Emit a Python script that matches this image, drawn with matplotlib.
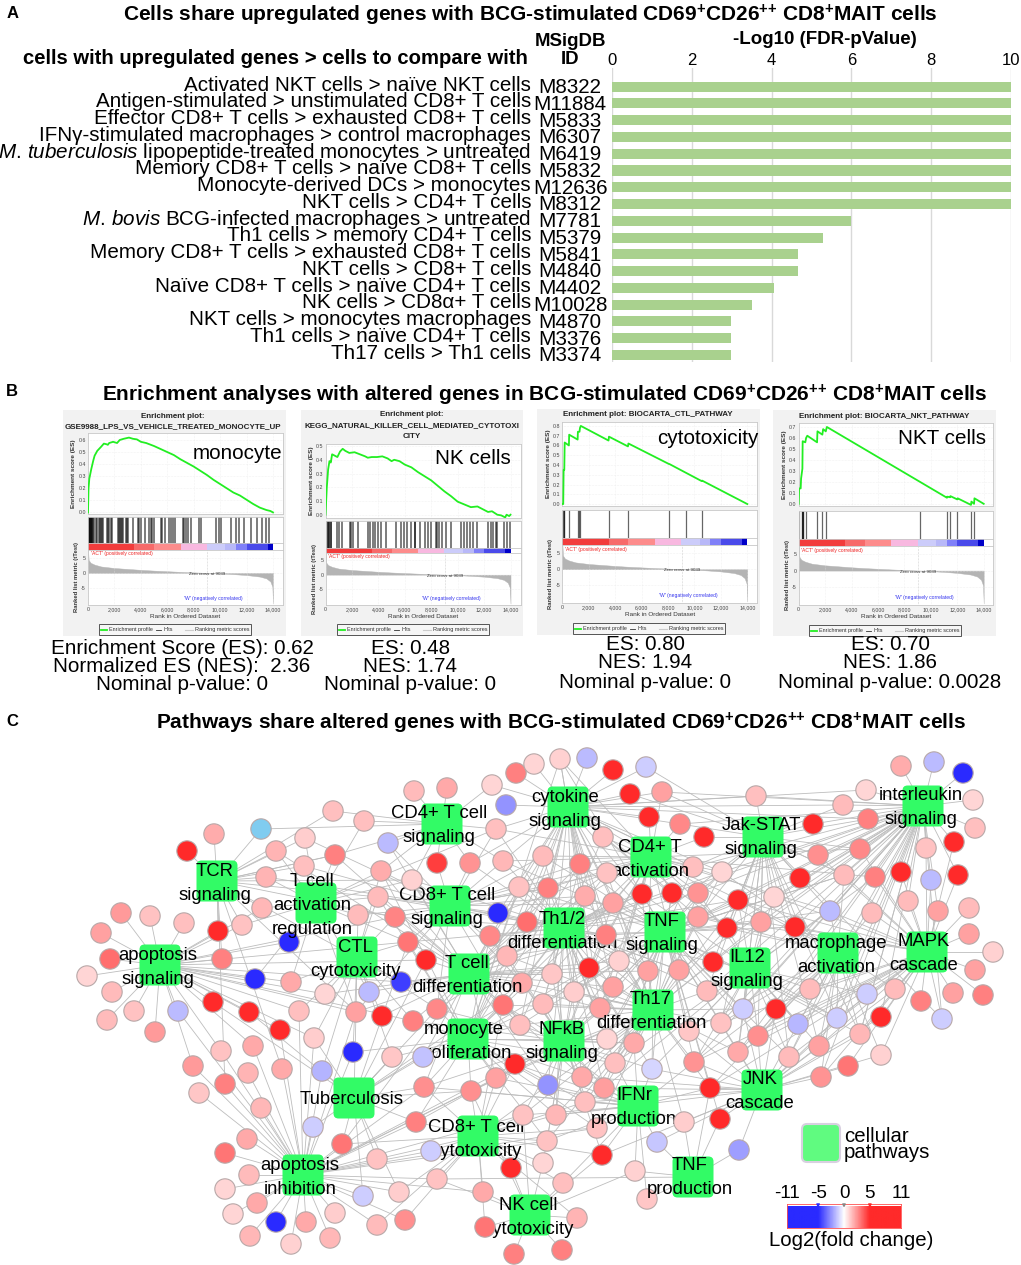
import numpy as np
import matplotlib
matplotlib.use('Agg')
import matplotlib.pyplot as plt
from matplotlib.collections import LineCollection
from matplotlib.colors import LinearSegmentedColormap, Normalize
from matplotlib.patches import FancyBboxPatch, Rectangle

plt.rcParams['font.family'] = ['Liberation Sans', 'DejaVu Sans']
plt.rcParams['mathtext.fontset'] = 'custom'
plt.rcParams['mathtext.default'] = 'regular'
plt.rcParams['mathtext.rm'] = 'Liberation Sans'
plt.rcParams['mathtext.it'] = 'Liberation Sans:italic'
plt.rcParams['mathtext.bf'] = 'Liberation Sans:bold'
plt.rcParams['axes.unicode_minus'] = False

W, H = 1021, 1265

# panel A
cell_labels = [
    'Activated NKT cells > naïve NKT cells',
    'Antigen-stimulated > unstimulated CD8+ T cells',
    'Effector CD8+ T cells > exhausted CD8+ T cells',
    'IFNγ-stimulated macrophages > control macrophages',
    r'$\mathit{M.\,tuberculosis}$ lipopeptide-treated monocytes > untreated',
    'Memory CD8+ T cells > naïve CD8+ T cells',
    'Monocyte-derived DCs > monocytes',
    'NKT cells > CD4+ T cells',
    r'$\mathit{M.\,bovis}$ BCG-infected macrophages > untreated',
    'Th1 cells > memory CD4+ T cells',
    'Memory CD8+ T cells > exhausted CD8+ T cells',
    'NKT cells > CD8+ T cells',
    'Naïve CD8+ T cells > naïve CD4+ T cells',
    'NK cells > CD8α+ T cells',
    'NKT cells > monocytes macrophages',
    'Th1 cells > naïve CD4+ T cells',
    'Th17 cells > Th1 cells',
]
msigdb_ids = ['M8322', 'M11884', 'M5833', 'M6307', 'M6419', 'M5832', 'M12636', 'M8312', 'M7781',
              'M5379', 'M5841', 'M4840', 'M4402', 'M10028', 'M4870', 'M3376', 'M3374']
log_fdr = [10, 10, 10, 10, 10, 10, 10, 10, 6.0, 5.3, 4.67, 4.67, 4.07, 3.5, 2.98, 2.98, 2.98]

# panel B, the ranked list is the same in all four plots
metric_rank = [0, 50, 200, 500, 1000, 2000, 3000, 4000, 5000, 6000, 7000, 8000, 9039, 10000,
               11000, 12000, 13000, 13500, 13800, 13950, 14000]
metric_val = [8, 4.2, 3.3, 2.7, 2.1, 1.6, 1.3, 1.0, 0.75, 0.55, 0.35, 0.18, 0, -0.18,
              -0.4, -0.7, -1.2, -1.8, -2.8, -4.5, -10]
strip_edges = [0, 3500, 5000, 7000, 9000, 10400, 11200, 12000, 13600, 14000]
strip_colors = ['#f23c3c', '#f76a6a', '#fd8c8c', '#f8b8e0', '#ccccfa', '#b8b8f8', '#8080f8', '#4a4aea', '#0000c8']

es1_rank = [0, 40, 100, 250, 400, 500, 700, 1000, 1200, 1400, 1500, 1600, 1900, 2200, 2400, 2700, 3100, 3400,
            3700, 4000, 4400, 5000, 5500, 6000, 6500, 7000, 7500, 8000, 8500, 9000, 9500, 10000, 10500, 11000,
            11500, 12000, 12500, 13000, 13500, 13800, 14000]
es1_val = [0, .2, .28, .36, .43, .47, .51, .545, .57, .565, .56, .575, .585, .575, .60, .61, .62, .61,
           .605, .585, .575, .55, .525, .50, .475, .44, .41, .38, .345, .31, .27, .235, .20, .165,
           .14, .105, .07, .04, .02, .012, 0]
es2_rank = [0, 100, 200, 300, 400, 500, 700, 900, 1100, 1300, 1500, 1800, 2200, 2600, 3000, 3200, 3500, 3900, 4300,
            4700, 5000, 5200, 5600, 6000, 6500, 7000, 7500, 8000, 8500, 9000, 9500, 10000, 10500, 11000, 11500,
            12000, 12300, 12600, 13000, 13300, 13600, 13700, 13900, 14000]
es2_val = [0, .2, .33, .39, .38, .44, .43, .42, .46, .48, .465, .45, .455, .44, .425, .415, .42, .42, .425,
           .41, .39, .40, .39, .365, .345, .31, .28, .25, .21, .17, .135, .095, .075, .055, .06,
           .035, .02, .025, 0, -.005, -.02, 0, -.01, 0]
es3_rank = [0, 70, 100, 150, 180, 500, 520, 1160, 1180, 1300, 1340, 1400, 3500, 3530, 4970, 5000, 8070, 8100,
            10545, 10580, 14000]
es3_val = [0, 0, .35, .35, .63, .60, .71, .66, .74, .74, .78, .80, .65, .69, .59, .62, .41, .41, .235, .24, 0]
es4_rank = [0, 30, 150, 180, 280, 300, 500, 560, 650, 1390, 1420, 1790, 1850, 2050, 2130, 11220, 11240, 11450, 11480,
            12000, 12030, 13040, 13070, 13270, 13300, 14000]
es4_val = [0, .14, .14, .23, .32, .57, .56, .60, .62, .56, .66, .63, .68, .66, .70, .055, .065, .06, .07,
           .04, .05, -.01, .02, .0, .05, 0]

hits1 = [20, 60, 100, 140, 180, 220, 260, 300, 340, 380, 420, 600, 660, 830, 900, 980, 1060, 1130, 1420, 1500, 1580,
         1760, 1850, 2300, 2370, 2440, 2510, 2580, 2650, 2860, 2950, 3030, 3400, 3800, 3880, 3980, 4330, 4650, 4730,
         4850, 4980, 5500, 5620, 5800, 6100, 6250, 6400, 6600, 7180, 7300, 7400, 7600, 7800, 8400, 8550, 9700, 9900,
         10100, 10850, 11200, 11450, 11800, 12300, 12800, 13200, 13500, 13700]
hits2 = [120, 180, 240, 300, 380, 450, 890, 1040, 1240, 1850, 1950, 2080, 2480, 3250, 3400, 3600, 3750, 3990, 4180,
         4560, 5320, 5700, 5950, 6200, 6500, 6750, 6810, 7120, 7500, 7750, 8000, 8350, 8450, 8600, 8850, 9110, 9490,
         10250, 10450, 10700, 10950, 11150, 11450, 12300, 12500, 12700, 12900, 13000, 13500, 13750, 13950]
hits3 = [76, 120, 150, 505, 1160, 1260, 1340, 3500, 4970, 8070, 9330, 10545]
hits4 = [20, 230, 270, 300, 340, 560, 1390, 1790, 2050, 9200, 11220, 11450, 12000, 13040, 13270]

gsea_titles = [
    ['Enrichment plot:', 'GSE9988_LPS_VS_VEHICLE_TREATED_MONOCYTE_UP'],
    ['Enrichment plot:', 'KEGG_NATURAL_KILLER_CELL_MEDIATED_CYTOTOXI', 'CITY'],
    ['Enrichment plot: BIOCARTA_CTL_PATHWAY'],
    ['Enrichment plot: BIOCARTA_NKT_PATHWAY'],
]
gsea_names = ['monocyte', 'NK cells', 'cytotoxicity', 'NKT cells']
gsea_stats = [
    ['Enrichment Score (ES): 0.62', 'Normalized ES (NES):  2.36', 'Nominal p-value: 0'],
    ['ES: 0.48', 'NES: 1.74', 'Nominal p-value: 0'],
    ['ES: 0.80', 'NES: 1.94', 'Nominal p-value: 0'],
    ['ES: 0.70', 'NES: 1.86', 'Nominal p-value: 0.0028'],
]

# panel C
pathway_x = [442, 217, 316, 450, 357, 160, 469, 568, 651, 763, 923, 564, 665, 750, 838, 927, 653, 468, 564, 354,
             478, 303, 530, 638, 762, 693]
pathway_y = [824, 881, 903, 906, 957, 965, 974, 807, 857, 837, 806, 928, 932, 968, 953, 952, 1010, 1039, 1041, 1098,
             1136, 1175, 1215, 1106, 1090, 1177]
pathway_text = [
    ['CD4+ T cell', 'signaling'], ['TCR', 'signaling'], ['T cell', 'activation', 'regulation'],
    ['CD8+ T cell', 'signaling'], ['CTL', 'cytotoxicity'], ['apoptosis', 'signaling'],
    ['T cell', 'differentiation'], ['cytokine', 'signaling'], ['CD4+ T', 'activation'],
    ['Jak-STAT', 'signaling'], ['interleukin', 'signaling'], ['Th1/2', 'differentiation'],
    ['TNF', 'signaling'], ['IL12', 'signaling'], ['macrophage', 'activation'], ['MAPK', 'cascade'],
    ['Th17', 'differentiation'], ['monocyte', 'proliferation'], ['NFkB', 'signaling'], ['Tuberculosis'],
    ['CD8+ T cell', 'cytotoxicity'], ['apoptosis', 'inhibition'], ['NK cell', 'cytotoxicity'],
    ['IFNr', 'production'], ['JNK', 'cascade'], ['TNF', 'production'],
]
pathway_text_x = [439, 215, 312, 447, 355, 158, 467, 565, 650, 761, 921, 562, 662, 747, 836, 924, 651, 464, 562, 352,
                  476, 300, 528, 634, 760, 690]
pathway_text_y = [814, 871, 881, 896, 947, 955, 964, 797, 847, 826, 796, 919, 921, 958, 943, 942, 999, 1029, 1030, 1100,
                  1127, 1165, 1205, 1095, 1080, 1166]

node_x = [187, 214, 261, 333, 364, 414, 447, 492, 516, 534,
          506, 305, 276, 388, 335, 304, 266, 437, 470, 496,
          503, 381, 412, 519, 378, 262, 358, 395, 498, 527,
          490, 242, 218, 121, 150, 184, 101, 110, 222, 289,
          408, 426, 507, 87, 112, 134, 178, 107, 155, 255,
          291, 325, 369, 401, 522, 213, 249, 299, 356, 382,
          413, 437, 503, 280, 314, 353, 392, 423, 221, 253,
          193, 248, 282, 322, 225, 199, 261, 424, 471, 496,
          515, 416, 523, 313, 342, 247, 225, 377, 431, 249,
          225, 257, 233, 276, 306, 335, 250, 291, 330, 363,
          399, 437, 377, 405, 511, 483, 485, 514, 562, 577,
          647, 635, 602, 563, 543, 547, 597, 657, 684, 720,
          739, 556, 585, 548, 582, 604, 652, 615, 694, 710,
          634, 607, 520, 689, 721, 738, 758, 789, 819, 860,
          881, 881, 848, 821, 798, 837, 942, 776, 743, 543,
          600, 560, 587, 613, 646, 630, 662, 649, 680, 704,
          603, 756, 813, 818, 843, 866, 868, 860, 901, 934,
          963, 973, 975, 954, 926, 901, 931, 958, 875, 844,
          800, 774, 738, 722, 693, 698, 672, 642, 543, 580,
          607, 548, 585, 613, 698, 606, 727, 761, 795, 830,
          872, 908, 938, 969, 969, 993, 975, 983, 953, 921,
          895, 867, 810, 713, 707, 679, 648, 619, 589, 552, 574, 613]
node_y = [851, 834, 829, 811, 821, 791, 788, 785, 773, 764,
          805, 838, 851, 843, 855, 866, 877, 863, 863, 829,
          861, 871, 880, 887, 897, 908, 915, 917, 913, 922,
          936, 925, 931, 913, 916, 923, 933, 959, 959, 942,
          942, 960, 956, 976, 992, 1011, 1011, 1020, 1032, 979,
          982, 994, 992, 982, 983, 1002, 1012, 1011, 1012, 1016,
          1021, 1009, 1005, 1030, 1038, 1052, 1057, 1057, 1051, 1046,
          1066, 1073, 1069, 1071, 1084, 1093, 1108, 1087, 1091, 1078,
          1064, 1122, 1115, 1127, 1144, 1139, 1153, 1159, 1151, 1175,
          1189, 1203, 1214, 1222, 1222, 1213, 1236, 1244, 1238, 1196,
          1192, 1179, 1225, 1220, 1168, 1192, 1227, 1254, 1250, 1218,
          1199, 1171, 1155, 1183, 1163, 1141, 1128, 1142, 1122, 1119,
          1150, 1115, 1102, 1085, 1077, 1088, 1069, 1063, 1062, 1088,
          1043, 1039, 1025, 1031, 1023, 1052, 1036, 1057, 1046, 1034,
          1017, 1055, 1066, 1077, 1024, 1018, 1019, 1009, 1009, 1004,
          1008, 759, 758, 770, 767, 794, 792, 817, 824, 837,
          837, 796, 824, 855, 805, 790, 819, 849, 766, 762,
          773, 800, 828, 842, 848, 872, 880, 875, 877, 875,
          878, 897, 900, 872, 867, 893, 893, 894, 856, 864,
          873, 888, 896, 903, 917, 935, 928, 922, 927, 911,
          913, 901, 911, 908, 934, 952, 970, 995, 993, 1001,
          989, 994, 989, 962, 991, 970, 971, 961, 968, 974, 992, 987]
# nan is the one sky blue node
node_fc = [6, 1.9, np.nan, 1.5, 1.5, 1.6, 2, 1, 3, 1,
           -2.5, 1.2, 1.8, -1.6, 3, 1.5, 1.8, 4.5, 2.5, 1.5,
           1.7, 1.9, 1.1, 1.4, 1.6, 1.7, 1.6, 2.9, -6, 3.4,
           2.8, 1.4, 5.5, 2.4, 1.4, 1.5, 2.2, 3.4, 3, -6,
           3.2, 5.5, 1.7, 1, 1.6, 1.4, -1.6, 1.6, 2.4, -6,
           2, 1, -1.6, -4.5, 2, 5.5, 5.5, 1.5, 2.2, 5.5,
           3, 2.8, 3.2, 5.5, 1.2, -6, 1.3, -1.4, 1.4, 2,
           2.4, 1.8, 2, -1.8, 3, 1.3, 1.7, 2.6, 2.6, 2.2,
           5.5, 3, 1.4, -1.2, 3.2, 2, 3.2, 1.4, -1.2, 1.6,
           1, 2, 1, -6, 2, 1.2, 1.7, 1.1, 1.7, -1.2,
           1.2, 1.4, 1.6, 2.6, 5.5, 2, 3.2, 3, 3, 1.8,
           1.3, 1.1, 5.5, 1.5, 1, 1.4, 1.4, -1.3, 1.2, 5.5,
           -2.3, 1.7, 1.5, -2.5, 2, 2.3, -1, 1.5, 2.5, 5.5,
           2, 1, 1.5, 1.3, 1.4, 2, 2.6, 1.6, 2.2, 1.7,
           5.5, 1.1, 3.2, 2.5, -1.7, -1.2, -1.2, 5.5, -1.2, 1.6,
           2.2, 1.1, -1.6, 5.5, -1.2, 5.5, 2.2, 5.5, 2.8, 5.5,
           1.5, 1.5, 5.5, 2.6, 1.6, 1, 3, 2.8, 1.9, -1.6,
           -6, 1, 1.5, 5.5, 1.4, 5.5, -1.6, 5.5, 3, 1.6,
           5.5, 1, 5.5, 1, 1.5, 2.5, 5.5, 5.5, 1.6, 3,
           1.4, 3, 1.9, 2.2, 2.2, 3, 5.5, 2.2, 5.5, -1.6,
           1.6, 1.6, 2.2, 1.6, 2.2, 1.1, 2.2, 3, 2.2, 3,
           1.6, -1.2, 1.6, 5.5, 1.6, 2.2, 2.2, 1.1, 5.5, 1.3, 1.2, 2.2]
# which pathways each node is tied to
node_links = [
    [1], [1], [1, 0], [1, 0], [0, 2], [0], [0], [7, 0], [7], [7],
    [7], [1, 2, 3], [1, 2, 6], [0, 3, 6], [1, 2, 6, 0], [2, 1, 3], [1, 2, 3], [0, 3], [0, 3, 7], [0, 7, 3, 2],
    [7, 3, 0, 11], [2, 3, 0, 4], [3, 2, 0, 6], [3, 7, 11, 6], [2, 3, 6, 4], [1, 2, 5], [2, 3, 4], [2, 3, 4, 6], [3, 11, 7], [11, 3, 7, 6],
    [3, 6, 11, 17], [1, 5, 2], [1, 5], [5], [5], [5], [5], [5], [5, 1], [5, 2],
    [3, 4, 6, 2], [6, 3], [6, 11, 3, 7, 17], [5], [5], [5], [5, 21], [5], [5], [5, 2],
    [5, 4, 2], [5, 4, 6], [4, 6, 2], [6, 4], [6, 11, 17, 3, 7], [5, 19], [5, 19], [5, 21, 4], [4, 2, 21, 19], [6, 4],
    [6, 17, 4], [6, 17, 4, 3], [6, 17, 11, 18], [5, 21], [5, 21, 4, 19], [4, 21, 17], [17, 19, 4], [17, 19, 6], [21, 5], [21, 5],
    [21, 5], [21], [21, 1], [21, 19, 4], [21, 1], [21], [21], [19, 21, 17, 18], [17, 20, 21, 19], [17, 18, 20, 21],
    [17, 18, 21], [20, 21, 19], [20, 18, 23, 21], [21, 19], [21, 19, 20, 6], [21], [21], [21, 19, 20], [20, 21], [21],
    [21], [21], [21], [21], [21], [21], [21], [21], [21], [21, 19],
    [21, 20, 19], [21, 20, 22, 25], [21, 20], [21, 20], [20, 22], [20, 22, 21], [22, 20], [22], [22], [22, 20],
    [25, 23], [25, 23, 22], [22, 23, 20, 24], [22, 23, 20], [22, 18, 20], [20, 18, 23, 21], [23, 20, 21, 18], [23, 25, 24], [25, 23, 24, 16], [25, 24, 12],
    [25, 24], [18, 23, 20, 17], [23, 18, 20], [18, 20, 17, 23], [18, 23, 17, 16], [23, 18, 16, 24], [23, 16, 18, 24], [18, 16, 23], [16, 24, 23, 13], [24, 23, 16, 25],
    [16, 18, 23], [16, 18, 11], [17, 18, 11, 16], [16, 13, 24], [13, 24, 16, 14], [24, 13, 16, 15], [13, 24, 15, 14], [24, 15, 14, 13], [24, 15, 14, 13], [15, 24, 14, 10],
    [15, 24, 10], [15, 24], [24, 15], [24, 15], [14, 13, 15, 24], [14, 15, 13, 24], [15], [13, 14, 24], [13, 16, 24], [18, 11, 17, 16],
    [16, 11, 18], [7], [7], [7], [7, 9], [7, 9], [7, 8, 9, 10], [7, 8], [8, 7, 9, 10], [8, 9],
    [7, 8, 11], [9, 7, 10], [9, 10], [9, 10, 15], [10, 7, 9], [10, 7], [10, 9, 7], [10, 9, 15, 8], [10], [10],
    [10], [10], [10], [10, 15], [10, 15], [10, 15], [15, 10], [15, 10], [10, 15, 8, 13], [10, 9, 14, 15, 12],
    [9, 10, 12], [9, 10, 12, 13], [9, 12, 10, 13], [9, 8, 12, 10], [8, 9, 12, 10, 7], [8, 12, 10, 9], [8, 12, 7], [8, 11, 12], [7, 3, 11, 8], [7, 8, 11, 3],
    [7, 8, 11, 12], [7, 11, 8, 3], [7, 11, 8, 12], [7, 11, 12, 8, 6], [12, 9, 16, 10], [11, 12, 7, 8, 16], [12, 13, 9, 10], [13, 9, 10, 12], [14, 13, 10, 9], [14, 10, 15],
    [15, 14, 10], [15, 10], [15, 10], [15], [15], [15], [15], [15], [15], [15],
    [15, 24, 14], [15, 13, 14, 24], [13, 14, 15], [13, 12], [13, 16, 12], [12, 16, 11], [12, 16, 11], [11, 12, 16], [11, 16, 12], [11, 18, 6], [11, 18, 16], [16, 11, 12, 18],
]
# long lines across the middle of the network: node -> pathways
long_links = {
    14: [1], 18: [11], 19: [8, 11], 20: [8, 12], 21: [6, 17], 22: [11, 1], 23: [8, 12, 17], 24: [11, 17, 1], 27: [11, 1, 5],
    28: [8], 30: [18, 12], 40: [11, 17, 5, 19], 41: [5, 19], 42: [18, 12, 16], 53: [5, 1], 54: [18, 16, 8, 19], 58: [1, 5, 3, 6],
    60: [18, 5], 61: [18, 11, 19], 62: [16, 23, 20, 19], 66: [19], 77: [20, 23, 6], 78: [23, 16, 22], 79: [16, 23, 6],
    80: [23, 20, 16], 81: [17, 18], 82: [22, 16], 112: [18], 115: [16, 17], 116: [16, 17], 121: [16, 24, 11], 122: [16, 24, 17],
    123: [16, 6, 11], 124: [11, 6, 12, 24], 125: [12, 11, 13], 126: [12, 13, 11], 127: [12, 13, 11, 17], 128: [12, 15, 14, 10],
    129: [12, 14, 15], 130: [12, 11, 17], 131: [12, 11, 17], 132: [6, 3, 7, 12], 133: [12, 11, 14], 134: [12, 9, 15, 10],
    135: [12, 9, 14, 10], 136: [12, 9, 10], 137: [12, 9, 10], 138: [10, 9], 139: [10, 9, 12], 141: [14], 143: [14, 10],
    144: [13, 10], 145: [9, 10, 12], 146: [9, 10], 148: [12, 9, 10], 149: [12, 11, 9], 150: [7, 6, 8, 12], 151: [12, 8, 7, 17],
    179: [12, 9], 182: [14, 15, 16, 11], 183: [16, 14, 11, 7], 184: [7, 11, 15], 185: [11, 13, 16], 186: [11, 16, 10],
    187: [16, 7, 6, 13], 188: [6, 12, 17], 189: [12, 6, 17], 190: [3, 6, 16], 191: [3, 6, 17, 18], 192: [3, 6, 16, 18],
    193: [3, 17, 18, 16], 194: [11, 7, 14, 15], 195: [3, 6, 18], 196: [7, 8, 16, 14], 197: [16, 7, 15], 198: [15, 8, 12],
    199: [12, 9, 8, 13], 213: [9, 16, 10, 11, 8], 214: [9, 11, 10], 215: [11, 8, 10], 216: [8, 7, 18, 6], 217: [8, 7, 18, 6],
    218: [7, 8, 17, 6], 219: [7, 6, 8], 220: [12, 16, 7], 221: [8, 7, 12, 6],
}
# these nodes sit on top of the pathway labels
nodes_over_text = [15, 190, 67, 88, 82, 118, 195, 22, 106]

fold_ticks = [-11, -5, 0, 5, 11]
fold_marks = [-5, 0, 5]

fig = plt.figure(figsize=(W / 100, H / 100), dpi=100)
root = fig.add_axes([0, 0, 1, 1])
root.set_xlim(0, W)
root.set_ylim(H, 0)
root.axis('off')


def px_axes(left, top, right, bottom):
    return fig.add_axes([left / W, 1 - bottom / H, (right - left) / W, (bottom - top) / H])


# headings
for txt, x, y in [('A', 13, 14), ('B', 12, 392), ('C', 12, 722)]:
    root.text(x, y, txt, fontsize=12, fontweight='bold', ha='center', va='center')
sup = 'CD69$^{+}$CD26$^{{+}{+}}$ CD8$^{+}$MAIT cells'
root.text(530, 15, 'Cells share upregulated genes with BCG-stimulated ' + sup,
          fontsize=15, fontweight='bold', ha='center', va='center')
root.text(545, 395, 'Enrichment analyses with altered genes in BCG-stimulated ' + sup,
          fontsize=15, fontweight='bold', ha='center', va='center')
root.text(561, 723, 'Pathways share altered genes with BCG-stimulated ' + sup,
          fontsize=15, fontweight='bold', ha='center', va='center')

# panel A
root.text(275, 58, 'cells with upregulated genes > cells to compare with', fontsize=14.6, fontweight='bold',
          ha='center', va='center')
root.text(570, 42, 'MSigDB', fontsize=13.4, fontweight='bold', ha='center', va='center')
root.text(570, 60, 'ID', fontsize=13.4, fontweight='bold', ha='center', va='center')
root.text(825, 40, '-Log10 (FDR-pValue)', fontsize=13.5, fontweight='bold', ha='center', va='center')

ax = px_axes(612, 68, 1011, 362)
ypos = np.arange(len(log_fdr))
ax.barh(ypos, log_fdr, height=0.6, color='#a9d18e', zorder=2)
ax.set_xlim(0, 10)
ax.set_ylim(16.42, -1.115)
ax.set_xticks([0, 2, 4, 6, 8, 10])
ax.set_yticks([])
ax.xaxis.tick_top()
ax.tick_params(axis='x', length=0, labelsize=12, pad=0)
ax.grid(axis='x', color='#d9d9d9', lw=1)
ax.set_axisbelow(True)
for s in ax.spines.values():
    s.set_visible(False)
for i in ypos:
    ax.text(-2.03, i - 0.1, cell_labels[i], ha='right', va='center', fontsize=14.9, clip_on=False)
    ax.text(-1.05, i + 0.05, msigdb_ids[i], ha='center', va='center', fontsize=14.9, clip_on=False)

# panel B
panel_boxes = [(63, 410, 286, 636), (301, 410, 523, 636), (537, 409, 760, 635), (773, 410, 996, 636)]
plot_left = [88, 325.5, 562.3, 798.7]
plot_right = [283, 520.5, 757, 992.7]
es_boxes = [(433, 514), (444, 518), (422, 506), (423, 506)]
es_limits = [(-0.013, 0.658), (-0.024, 0.515), (-0.02, 0.84), (-0.02, 0.736)]
es_ticks = [np.arange(0, 0.61, 0.1), np.arange(0, 0.51, 0.1), np.arange(0, 0.81, 0.1), np.arange(0, 0.71, 0.1)]
hit_boxes = [(517, 543, 550), (521.5, 548, 553), (510, 538, 545), (511, 539, 546)]
metric_bottom = [605, 605, 603, 605]
name_pos = [(237, 454), (473, 458), (708, 439), (942, 439)]
stats_x = [182, 410, 645, 890]
stats_y = [(648, 666, 684), (648, 666, 684), (644, 663, 682), (644, 663, 682)]
title_x = [173, 412, 648, 884]
title_y = [(416, 427), (415, 426, 437), (415,), (416,)]
legend_y = [624, 624, 623, 625]
es_curves = [(es1_rank, es1_val), (es2_rank, es2_val), (es3_rank, es3_val), (es4_rank, es4_val)]
hit_lists = [hits1, hits2, hits3, hits4]
hit_widths = [1.2, 1.2, 0.9, 0.9]

for p in range(4):
    x0, y0, x1, y1 = panel_boxes[p]
    root.add_patch(Rectangle((x0, y0), x1 - x0, y1 - y0, fc='#f2f2f2', ec='none', zorder=0))
    for line, y in zip(gsea_titles[p], title_y[p]):
        root.text(title_x[p], y, line, fontsize=5.8, fontweight='bold', ha='center', va='center', color='#222222')

    left = plot_left[p]
    right = plot_right[p]
    # rank 14,000 sits 185 px from the left edge of every plot
    xmax = 14000 * (right - left) / 185

    es_ax = px_axes(left, es_boxes[p][0], right, es_boxes[p][1])
    es_ax.plot(es_curves[p][0], es_curves[p][1], color='#22ee22', lw=1.3, zorder=3)
    es_ax.set_xlim(0, xmax)
    es_ax.set_ylim(es_limits[p])
    es_ax.set_xticks(range(0, 14001, 2000))
    es_ax.set_yticks(es_ticks[p])
    es_ax.set_yticklabels(['%.1f' % v for v in es_ticks[p]])
    es_ax.tick_params(axis='y', labelsize=3.8, length=0, pad=1.5, labelcolor='#444444')
    es_ax.tick_params(axis='x', labelbottom=False, length=0)
    es_ax.grid(color='#e6e6e6', lw=0.4, ls=':')
    es_ax.set_ylabel('Enrichment score (ES)', fontsize=4.6, labelpad=1.5, color='#333333', fontweight='bold')

    hit_ax = px_axes(left, hit_boxes[p][0], right, hit_boxes[p][1])
    hit_ax.vlines(hit_lists[p], 0, 1, color='black', lw=hit_widths[p], alpha=0.6)
    hit_ax.set_xlim(0, xmax)
    hit_ax.set_ylim(0, 1)
    hit_ax.set_xticks([])
    hit_ax.set_yticks([])

    strip_ax = px_axes(left, hit_boxes[p][1], right, hit_boxes[p][2])
    for c, color in enumerate(strip_colors):
        strip_ax.axvspan(strip_edges[c], strip_edges[c + 1], color=color, lw=0)
    strip_ax.set_xlim(0, xmax)
    strip_ax.set_xticks([])
    strip_ax.set_yticks([])

    met_ax = px_axes(left, hit_boxes[p][2], right, metric_bottom[p])
    met_ax.fill_between(metric_rank, metric_val, 0, color='#b4b4b4', lw=0.3)
    met_ax.axvline(9039, color='#aaaaaa', lw=0.4, ls=':')
    met_ax.set_xlim(0, xmax)
    met_ax.set_ylim(-10.5, 7.5)
    met_ax.set_xticks(range(0, 14001, 2000))
    met_ax.set_xticklabels(['{:,}'.format(v) for v in range(0, 14001, 2000)])
    met_ax.set_yticks([-5, 0, 5])
    met_ax.tick_params(labelsize=3.8, length=0, pad=1.5, labelcolor='#444444')
    met_ax.grid(color='#e6e6e6', lw=0.4, ls=':')
    met_ax.set_xlabel('Rank in Ordered Dataset', fontsize=4.6, labelpad=1.5, color='#333333')
    met_ax.set_ylabel('Ranked list metric (tTest)', fontsize=4.2, labelpad=1.5, color='#333333', fontweight='bold')
    met_ax.text(200, 6.2, "'ACT' (positively correlated)", fontsize=3.6, color='#ee2222', va='center')
    met_ax.text(9039, -0.4, 'Zero cross at 9039', fontsize=3.2, color='#333333', ha='center', va='center')
    met_ax.text(7300, -8.3, "'W' (negatively correlated)", fontsize=3.6, color='#3333ee', va='center')

    for a in (es_ax, hit_ax, strip_ax, met_ax):
        for s in a.spines.values():
            s.set_color('#c8c8c8')
            s.set_linewidth(0.6)

    fig.text(name_pos[p][0] / W, 1 - name_pos[p][1] / H, gsea_names[p], fontsize=14.9, ha='center', va='center')
    for line, y in zip(gsea_stats[p], stats_y[p]):
        root.text(stats_x[p], y, line, fontsize=14.9, ha='center', va='center', zorder=6)

    # legend strip under each plot
    ly = legend_y[p]
    root.add_patch(Rectangle((x0 + 36, ly), 152, 11, fc='#f6f6f6', ec='#555555', lw=0.7, zorder=1))
    root.plot([x0 + 38, x0 + 44], [ly + 5.5, ly + 5.5], color='#22ee22', lw=1.3, zorder=2)
    root.text(x0 + 46, ly + 5.5, 'Enrichment profile', fontsize=3.9, va='center', color='#333333')
    root.plot([x0 + 93, x0 + 98], [ly + 5.5, ly + 5.5], color='#333333', lw=0.6, zorder=2)
    root.text(x0 + 100, ly + 5.5, 'Hits', fontsize=3.9, va='center', color='#333333')
    root.plot([x0 + 122, x0 + 130], [ly + 5.5, ly + 5.5], color='#cccccc', lw=0.8, zorder=2)
    root.text(x0 + 159, ly + 5.5, 'Ranking metric scores', fontsize=4, va='center', ha='center', color='#333333')

# panel C
segs = []
for n, links in enumerate(node_links):
    for k in links + long_links.get(n, []):
        segs.append([(node_x[n], node_y[n]), (pathway_x[k], pathway_y[k])])
root.add_collection(LineCollection(segs, colors='#bdbdbd', linewidths=0.6, zorder=1))

for k in range(len(pathway_x)):
    root.add_patch(FancyBboxPatch((pathway_x[k] - 17.5, pathway_y[k] - 17.5), 35, 35,
                                  boxstyle='round,pad=3,rounding_size=5', fc='#32fb66', ec='none', zorder=2))

fc_cmap = LinearSegmentedColormap.from_list(
    'fc', [(0, '#2a2aff'), (6 / 22, '#2a2aff'), (0.5, '#ffffff'), (16 / 22, '#ff2a2a'), (1, '#ff2a2a')])
fc_norm = Normalize(-11, 11)
node_colors = [('#80ccf0' if np.isnan(v) else fc_cmap(fc_norm(v))) for v in node_fc]
over = np.zeros(len(node_x), dtype=bool)
over[nodes_over_text] = True
px = np.array(node_x)
py = np.array(node_y)
cols = np.array([matplotlib.colors.to_rgba(c) for c in node_colors])
root.scatter(px[~over], py[~over], s=215, c=cols[~over], edgecolors='#b8a8a8', linewidths=0.8, zorder=3)
root.scatter(px[over], py[over], s=215, c=cols[over], edgecolors='#b8a8a8', linewidths=0.8, zorder=5)

for k, lines in enumerate(pathway_text):
    for j, line in enumerate(lines):
        root.text(pathway_text_x[k], pathway_text_y[k] + 24 * j, line, fontsize=13.3, ha='center', va='center', zorder=4)

# legend box and colour bar
root.add_patch(FancyBboxPatch((805, 1127), 32, 32, boxstyle='round,pad=3,rounding_size=5',
                              fc='#60fb80', ec='#d8d0e0', lw=1.5, zorder=2))
root.text(844, 1136, 'cellular', fontsize=14.7, va='center')
root.text(844, 1153, 'pathways', fontsize=14.7, va='center')
cb = px_axes(787, 1204, 901, 1228)
cb.imshow(np.linspace(-11, 11, 220)[None, :], cmap=fc_cmap, norm=fc_norm, extent=[-11, 11, 0, 1], aspect='auto')
cb.set_xticks(fold_ticks)
cb.set_yticks([])
cb.xaxis.tick_top()
cb.tick_params(axis='x', length=0, labelsize=13.5, pad=1.5)
cb.scatter(fold_marks, [1.05, 1.05, 1.05], marker='v', s=3, c=['#2a2aff', '#888888', '#ff2a2a'], clip_on=False, zorder=5)
for s in cb.spines.values():
    s.set_color('#ff5050')
    s.set_linewidth(0.6)
root.text(851, 1240, 'Log2(fold change)', fontsize=14.7, ha='center', va='center')

fig.savefig('out.png', dpi=100)
